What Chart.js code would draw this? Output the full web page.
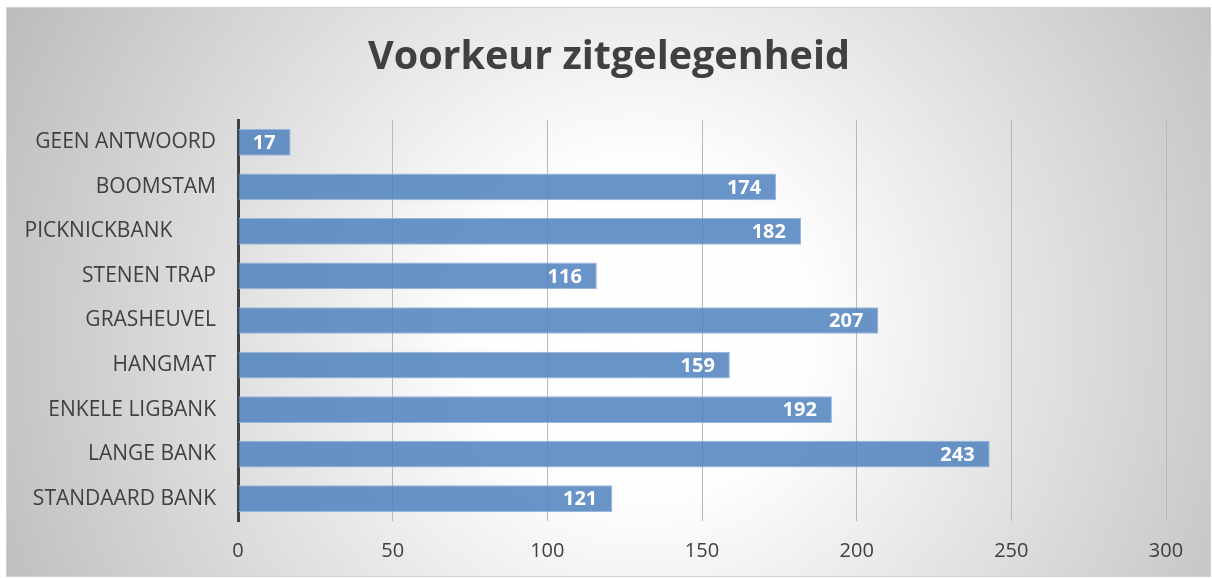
<!DOCTYPE html>
<html>
<head>
<meta charset="utf-8">
<script src="https://cdn.jsdelivr.net/npm/chart.js@4.4.1/dist/chart.umd.min.js"></script>
<style>
html,body{margin:0;padding:0;background:#fff;}
#wrap{width:1212px;height:578px;position:relative;}
</style>
</head>
<body>
<div id="wrap"><canvas id="c" width="1212" height="578"></canvas></div>
<script>
const categories = ["GEEN ANTWOORD","BOOMSTAM","PICKNICKBANK        ","STENEN TRAP","GRASHEUVEL","HANGMAT","ENKELE LIGBANK","LANGE BANK","STANDAARD BANK"];
const values = [17,174,182,116,207,159,192,243,121];
const xTicks = [0,50,100,150,200,250,300];
const titleText = "Voorkeur zitgelegenheid";

const FONT = "'Open Sans', sans-serif";

const bgPlugin = {
  id: 'bg',
  beforeDraw(chart) {
    const ctx = chart.ctx;
    ctx.save();
    ctx.fillStyle = '#ffffff';
    ctx.fillRect(0, 0, chart.width, chart.height);
    const x0 = 6, y0 = 7, w = chart.width - 7, h = chart.height - 8;
    const g = ctx.createRadialGradient(640, 330, 0, 640, 330, 700);
    g.addColorStop(0, '#ffffff');
    g.addColorStop(0.25, '#fdfdfd');
    g.addColorStop(1, '#bdbdbd');
    ctx.fillStyle = g;
    ctx.fillRect(x0, y0, w, h);
    ctx.strokeStyle = '#d0d0d0';
    ctx.lineWidth = 1;
    ctx.strokeRect(x0 + 0.5, y0 + 0.5, w - 1, h - 1);
    ctx.restore();
  }
};

const titlePlugin = {
  id: 'centeredTitle',
  afterDraw(chart) {
    const ctx = chart.ctx;
    ctx.save();
    ctx.fillStyle = '#404040';
    ctx.font = "bold 39.5px " + FONT;
    ctx.textAlign = 'center';
    ctx.textBaseline = 'middle';
    ctx.fillText(titleText, 609, 58);
    ctx.restore();
  }
};

const labelPlugin = {
  id: 'barLabels',
  afterDatasetsDraw(chart) {
    const ctx = chart.ctx;
    const meta = chart.getDatasetMeta(0);
    ctx.save();
    ctx.fillStyle = '#ffffff';
    ctx.font = "bold 20px " + FONT;
    ctx.textAlign = 'right';
    ctx.textBaseline = 'middle';
    meta.data.forEach((bar, i) => {
      ctx.fillText(String(values[i]), bar.x - 15, bar.y + 1);
    });
    ctx.restore();
  }
};

new Chart(document.getElementById('c'), {
  type: 'bar',
  data: {
    labels: categories,
    datasets: [{
      data: values,
      backgroundColor: 'rgba(79,129,189,0.85)',
      borderColor: 'rgba(150,182,222,1)',
      borderWidth: 1,
      borderSkipped: 'start',
      categoryPercentage: 0.6,
      barPercentage: 1.0
    }]
  },
  options: {
    indexAxis: 'y',
    responsive: false,
    animation: false,
    devicePixelRatio: 1,
    layout: { padding: { left: 0, right: 46, top: 120, bottom: 0 } },
    plugins: {
      legend: { display: false },
      tooltip: { enabled: false },
      title: { display: false }
    },
    scales: {
      x: {
        min: 0, max: 300,
        afterBuildTicks(scale) { scale.ticks = xTicks.map(v => ({ value: v })); },
        afterFit(scale) { scale.height = 57; },
        grid: { color: '#b8b8b8', lineWidth: 1, drawTicks: false },
        border: { display: false },
        ticks: { color: '#404040', font: { family: FONT, size: 20 }, padding: 18 }
      },
      y: {
        afterFit(scale) { scale.width = 238; },
        grid: { display: false, drawTicks: false },
        border: { display: true, color: '#404040', width: 3 },
        ticks: { color: '#404040', font: { family: FONT, size: 21 }, padding: 22, autoSkip: false }
      }
    }
  },
  plugins: [bgPlugin, labelPlugin, titlePlugin]
});
</script>
</body>
</html>
